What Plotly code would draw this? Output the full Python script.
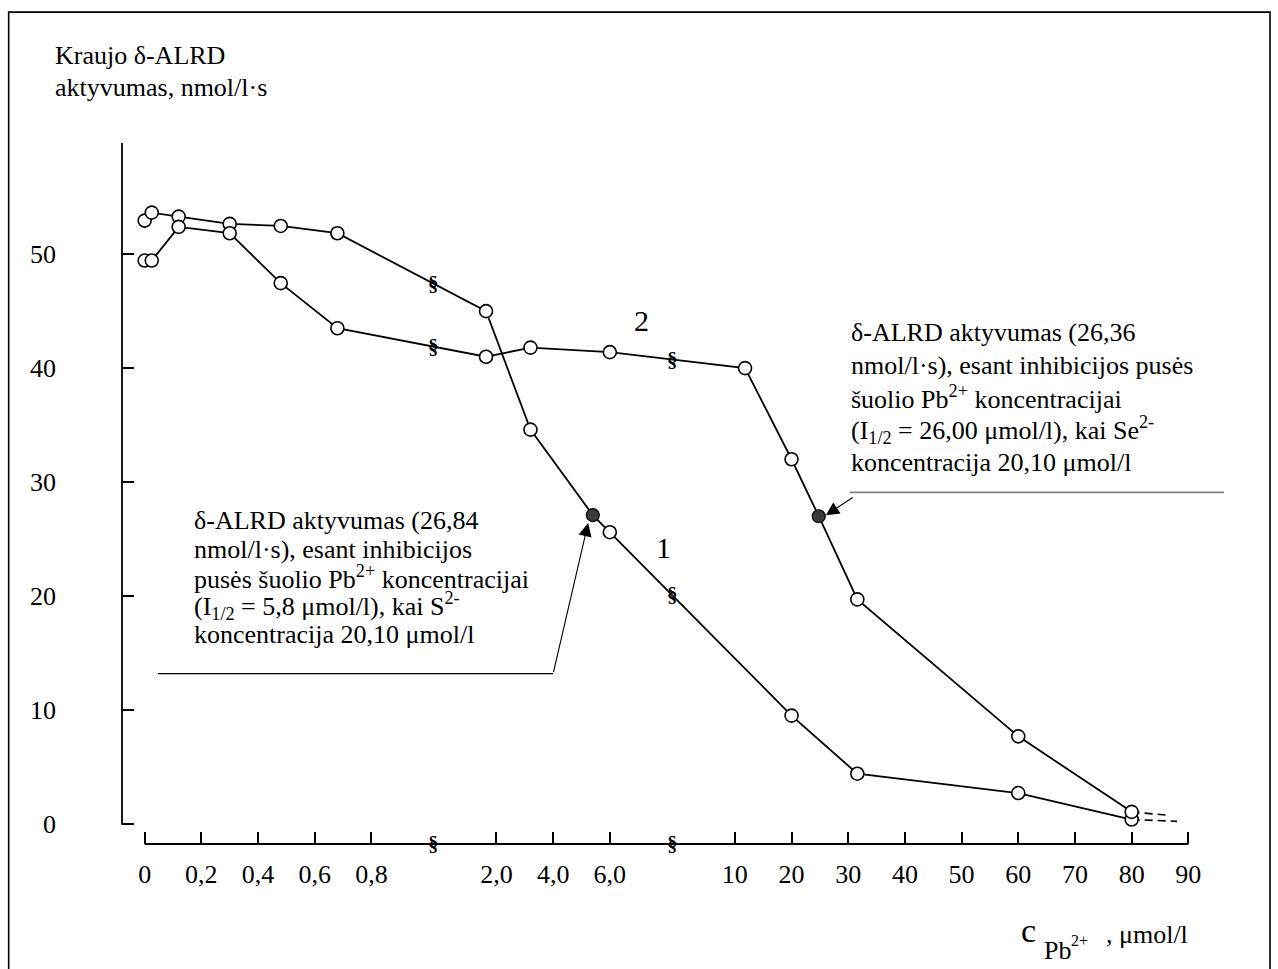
import numpy as np
import plotly.graph_objects as go

# ---------------- data ----------------
tick_values = [0, 0.2, 0.4, 0.6, 0.8, 2.0, 4.0, 6.0, 10, 20, 30, 40, 50, 60, 70, 80, 90]
tick_labels = ["0", "0,2", "0,4", "0,6", "0,8", "2,0", "4,0", "6,0",
               "10", "20", "30", "40", "50", "60", "70", "80", "90"]
break_after = [0.8, 6.0]          # axis is broken after these ticks
y_ticks = [0, 10, 20, 30, 40, 50]

# curve 1
c1_x = [0, 0.025, 0.12, 0.3, 0.48, 0.68, 1.9, 3.2, 6.0, 20, 31.6, 60, 80]
c1_y = [52.95, 53.65, 53.3, 52.66, 52.48, 51.84, 45.0, 34.6, 25.6, 9.5, 4.4, 2.7, 0.38]
c1_half_x = [5.4]
c1_half_y = [27.1]
c1_ext_x = [80, 88]
c1_ext_y = [0.38, 0.22]

# curve 2
c2_x = [0, 0.025, 0.12, 0.3, 0.48, 0.68, 1.9, 3.2, 6.0, 11.8, 20, 31.6, 60, 80]
c2_y = [49.44, 49.44, 52.4, 51.84, 47.46, 43.5, 41.0, 41.8, 41.4, 40.0, 32.0, 19.7, 7.68, 1.05]
c2_half_x = [24.8]
c2_half_y = [27.0]
c2_ext_x = [80, 86.4]
c2_ext_y = [1.05, 0.75]

# ---------------- broken x scale ----------------
GAP = 2.206
tick_pos = []
p = 0.0
for i, v in enumerate(tick_values):
    if i > 0:
        p += GAP if tick_values[i - 1] in break_after else 1.0
    tick_pos.append(p)
tick_pos = np.array(tick_pos)


def X(c):
    return np.interp(np.asarray(c, dtype=float), tick_values, tick_pos)


break_pos = [X(b) + GAP / 2 for b in break_after]

# ---------------- figure geometry (pixels) ----------------
W, H = 1278, 969
L, R, T, B = 122.3, 1199.0, 143.0, 844.5
XR = [-0.4, 18.6]
YR = [-1.77, 59.76]


def pxx(px):
    return (px - L) / (R - L)


def pxy(py):
    return (B - py) / (B - T)


FONT = "Liberation Serif, Times New Roman, serif"
BLACK = "#000000"

fig = go.Figure()


def merged(xs, ys, hx, hy):
    pts = sorted(list(zip(xs, ys)) + list(zip(hx, hy)))
    return [a for a, _ in pts], [b for _, b in pts]


for cx, cy, hx, hy, ex, ey in [(c1_x, c1_y, c1_half_x, c1_half_y, c1_ext_x, c1_ext_y),
                               (c2_x, c2_y, c2_half_x, c2_half_y, c2_ext_x, c2_ext_y)]:
    mx, my = merged(cx, cy, hx, hy)
    fig.add_trace(go.Scatter(x=X(mx), y=my, mode="lines",
                             line=dict(color=BLACK, width=1.8), hoverinfo="skip"))
    fig.add_trace(go.Scatter(x=X(ex), y=ey, mode="lines",
                             line=dict(color=BLACK, width=1.6, dash="8px,5px"), hoverinfo="skip"))

for cx, cy, hx, hy in [(c1_x, c1_y, c1_half_x, c1_half_y), (c2_x, c2_y, c2_half_x, c2_half_y)]:
    fig.add_trace(go.Scatter(x=X(cx), y=cy, mode="markers",
                             marker=dict(size=13, color="white", line=dict(color=BLACK, width=1.6)),
                             hoverinfo="skip"))
    fig.add_trace(go.Scatter(x=X(hx), y=hy, mode="markers",
                             marker=dict(size=13, color="#3a3a3a", line=dict(color=BLACK, width=1.2)),
                             hoverinfo="skip"))

annotations = []
BREAK_FONT = dict(family=FONT, size=21, color=BLACK)

# break symbols on curves
for cx, cy, hx, hy in [(c1_x, c1_y, c1_half_x, c1_half_y), (c2_x, c2_y, c2_half_x, c2_half_y)]:
    mx, my = merged(cx, cy, hx, hy)
    for bp in break_pos:
        yb = float(np.interp(bp, X(mx), my))
        annotations.append(dict(x=bp, y=yb, xref="x", yref="y", text="<b>§</b>", showarrow=False,
                                font=BREAK_FONT, xanchor="center", yanchor="middle"))
# break symbols on x axis
for bp in break_pos:
    annotations.append(dict(x=bp, y=0, xref="x", yref="paper", text="<b>§</b>", showarrow=False,
                            font=BREAK_FONT, xanchor="center", yanchor="middle"))


def text_at(txt, px, py, size=26, anchor="left"):
    annotations.append(dict(x=pxx(px), y=pxy(py), xref="paper", yref="paper", text=txt,
                            showarrow=False, font=dict(family=FONT, size=size, color=BLACK),
                            xanchor=anchor, yanchor="middle", borderpad=0))


# y axis title
text_at("Kraujo δ-ALRD", 54, 55)
text_at("aktyvumas, nmol/l·s", 54, 87)

# curve labels
text_at("1", 664, 548, size=30, anchor="center")
text_at("2", 642, 321, size=30, anchor="center")

# lower-left annotation block
left_lines = ["δ-ALRD aktyvumas (26,84",
              "nmol/l·s), esant inhibicijos",
              "pusės šuolio Pb<sup>2+</sup> koncentracijai",
              "(I<sub>1/2</sub> = 5,8 μmol/l), kai S<sup>2-</sup>",
              "koncentracija 20,10 μmol/l"]
for i, t in enumerate(left_lines):
    text_at(t, 193, 521 + i * 28.4)

# right annotation block
right_lines = ["δ-ALRD aktyvumas (26,36",
               "nmol/l·s), esant inhibicijos pusės",
               "šuolio Pb<sup>2+</sup> koncentracijai",
               "(I<sub>1/2</sub> = 26,00 μmol/l), kai Se<sup>2-</sup>",
               "koncentracija 20,10 μmol/l"]
for i, t in enumerate(right_lines):
    text_at(t, 850, 333 + i * 32.5)

# x axis title
text_at("c", 1028.7, 931, size=34, anchor="center")
text_at("Pb", 1042.7, 951, size=26)
text_at("2+", 1070, 941, size=16)
text_at(", μmol/l", 1105, 935, size=26)

# arrows
annotations.append(dict(x=pxx(588.3), y=pxy(523.3), xref="paper", yref="paper", text="",
                        showarrow=True, arrowhead=2, arrowsize=2.4, arrowwidth=1.1,
                        arrowcolor=BLACK, ax=553.3 - 588.3, ay=674 - 523.3, standoff=0))
annotations.append(dict(x=pxx(826), y=pxy(515.5), xref="paper", yref="paper", text="",
                        showarrow=True, arrowhead=2, arrowsize=2.4, arrowwidth=1.1,
                        arrowcolor=BLACK, ax=854.3 - 826, ay=496.7 - 515.5, standoff=0))

shapes = [
    # outer frame
    dict(type="rect", xref="paper", yref="paper", x0=pxx(9), x1=pxx(1270), y0=pxy(1000), y1=pxy(12),
         line=dict(color=BLACK, width=1.6), fillcolor="rgba(0,0,0,0)", layer="below"),
    # y axis line
    dict(type="line", xref="paper", yref="y", x0=0, x1=0, y0=-0.08, y1=YR[1],
         line=dict(color=BLACK, width=1.8)),
    # x axis line
    dict(type="line", xref="x", yref="paper", x0=X(tick_values[0]), x1=X(tick_values[-1]), y0=0, y1=0,
         line=dict(color=BLACK, width=1.8)),
    # annotation leader lines
    dict(type="line", xref="paper", yref="paper", x0=pxx(158.3), x1=pxx(553.3), y0=pxy(674), y1=pxy(674),
         line=dict(color=BLACK, width=1.1)),
    dict(type="line", xref="paper", yref="paper", x0=pxx(849.7), x1=pxx(1224), y0=pxy(492.7), y1=pxy(492.7),
         line=dict(color="#808080", width=1.8)),
]

fig.update_layout(
    width=W, height=H, autosize=False,
    margin=dict(l=L, r=W - R, t=T, b=H - B, pad=0),
    paper_bgcolor="white", plot_bgcolor="white",
    showlegend=False,
    font=dict(family=FONT, size=26, color=BLACK),
    xaxis=dict(range=XR, showgrid=False, zeroline=False, showline=False,
               tickmode="array", tickvals=list(X(tick_values)), ticktext=tick_labels,
               ticks="inside", ticklen=12, tickwidth=1.8, tickcolor=BLACK,
               tickfont=dict(family=FONT, size=26, color=BLACK), ticklabelstandoff=12),
    yaxis=dict(range=YR, showgrid=False, zeroline=False, showline=False,
               tickmode="array", tickvals=y_ticks, ticktext=[str(v) for v in y_ticks],
               ticks="inside", ticklen=12, tickwidth=1.8, tickcolor=BLACK,
               tickfont=dict(family=FONT, size=26, color=BLACK), ticklabelstandoff=65),
    annotations=annotations,
    shapes=shapes,
)

fig.write_html("out.html", config={"displayModeBar": False},
               post_script="document.body.style.margin='0';")
